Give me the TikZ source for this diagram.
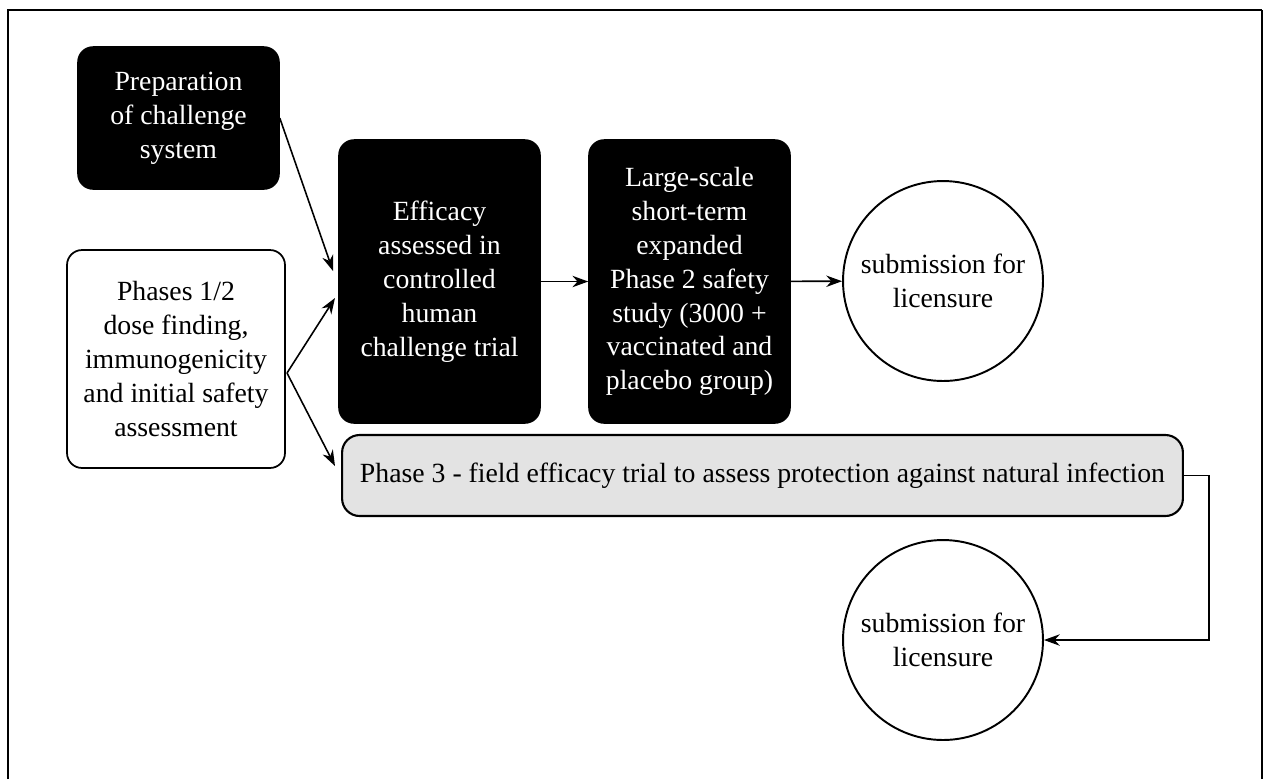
\documentclass[tikz,border=0pt]{standalone}
\usepackage{fontspec}
\setmainfont{Liberation Serif}
\usetikzlibrary{arrows.meta}

\begin{document}
\begin{tikzpicture}[x=0.02cm,y=-0.02cm,
  every node/.style={font=\fontsize{15.8}{19.3}\selectfont, align=center, inner sep=0pt},
  blackbox/.style={draw, fill=black, text=white, rounded corners=0.3cm, line width=0.9pt},
  whitebox/.style={draw, fill=white, rounded corners=0.3cm, line width=1pt},
  graybox/.style={draw, fill=black!11, rounded corners=0.35cm, line width=1.2pt},
  endcircle/.style={draw, circle, line width=1.1pt, minimum size=4cm},
  arr/.style={-{Stealth[length=9pt,width=6.5pt]}, line width=0.9pt}]
\useasboundingbox (0,0) rectangle (1264,779);
% frame
\draw[line width=1.6pt] (8,779) -- (8,10) -- (1262,10);
\draw[line width=0.6pt] (1262,10) -- (1262,779);
% boxes
\node[blackbox, minimum width=4.02cm, minimum height=2.84cm] (prep) at (178.5,118) {Preparation\\of challenge\\system};
\node[whitebox, minimum width=4.36cm, minimum height=4.36cm] (phase12) at (176,359) {Phases 1/2\\dose finding,\\immunogenicity\\and initial safety\\assessment};
\node[blackbox, minimum width=4.02cm, minimum height=5.66cm] (challenge) at (439.5,281.5) {Efficacy\\assessed in\\controlled\\human\\challenge trial};
\node[blackbox, minimum width=4.02cm, minimum height=5.66cm] (safety) at (689.5,281.5) {Large-scale\\short-term\\expanded\\Phase 2 safety\\study (3000 +\\vaccinated and\\placebo group)};
\node[endcircle] (submit1) at (943,281) {submission for\\licensure};
\node[graybox, minimum width=16.82cm, minimum height=1.62cm] (phase3) at (762.5,475.5) {Phase 3 - field efficacy trial to assess protection against natural infection};
\node[endcircle] (submit2) at (943,640) {submission for\\licensure};
% connectors
\coordinate (split) at (287,373);
\coordinate (tipA) at (333,271);
\coordinate (tipB) at (335,298);
\coordinate (tipC) at (335,466);
\draw[arr] (prep.east) -- (tipA);
\draw[arr] (split) -- (tipB);
\draw[arr] (split) -- (tipC);
\draw[arr] (challenge) -- (safety);
\draw[arr] (safety) -- (submit1);
\draw[arr] (phase3.east) -- ++(25,0) |- (submit2.east);
\end{tikzpicture}
\end{document}
